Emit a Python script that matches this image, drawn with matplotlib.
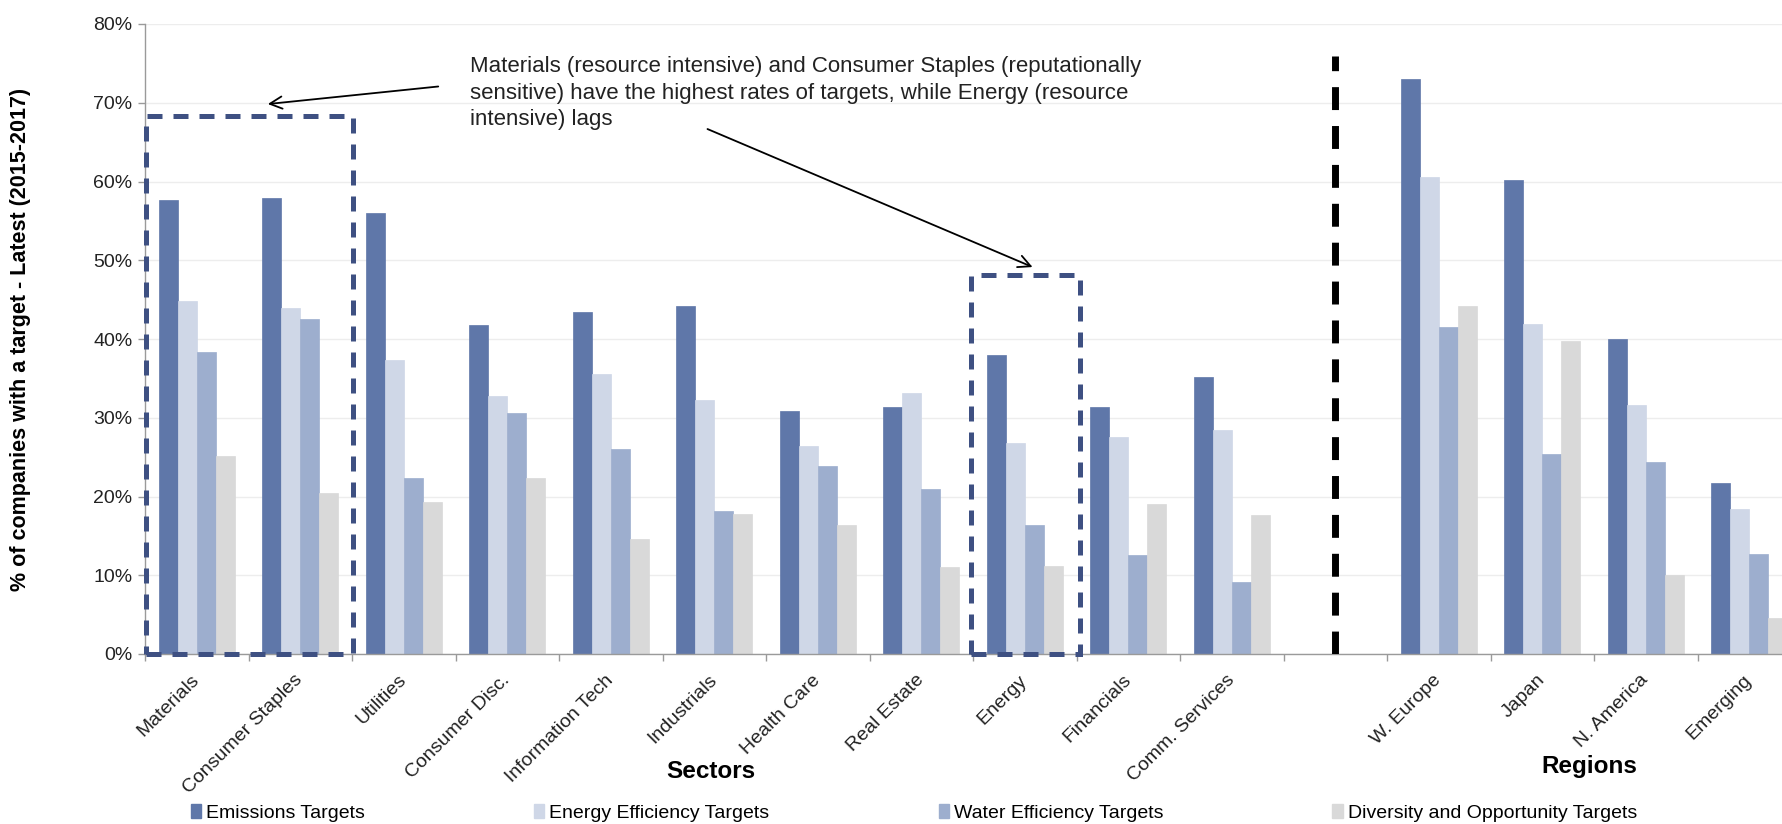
import matplotlib
matplotlib.use("Agg")
import matplotlib.pyplot as plt
from matplotlib.patches import Rectangle, Patch
import numpy as np

plt.rcParams['font.family'] = ['Liberation Sans', 'DejaVu Sans']

categories = ["Materials", "Consumer Staples", "Utilities", "Consumer Disc.", "Information Tech",
              "Industrials", "Health Care", "Real Estate", "Energy", "Financials", "Comm. Services",
              "", "W. Europe", "Japan", "N. America", "Emerging"]
emissions = [57.6, 57.9, 56.0, 41.8, 43.4, 44.2, 30.8, 31.4, 38.0, 31.4, 35.2, np.nan, 73.0, 60.2, 40.0, 21.7]
energy_eff = [44.8, 43.9, 37.3, 32.8, 35.6, 32.3, 26.4, 33.1, 26.8, 27.5, 28.5, np.nan, 60.6, 41.9, 31.6, 18.4]
water_eff = [38.4, 42.5, 22.3, 30.6, 26.0, 18.1, 23.9, 20.9, 16.4, 12.6, 9.1, np.nan, 41.5, 25.4, 24.4, 12.7]
diversity = [25.2, 20.5, 19.3, 22.3, 14.6, 17.8, 16.4, 11.1, 11.2, 19.1, 17.6, np.nan, 44.2, 39.8, 10.0, 4.6]
series_names = ["Emissions Targets", "Energy Efficiency Targets", "Water Efficiency Targets",
                "Diversity and Opportunity Targets"]
colors = ["#5F77A9", "#CFD7E7", "#9DAECE", "#D9D9D9"]

W, H = 1782, 824
fig = plt.figure(figsize=(W / 100, H / 100), dpi=100)
ax = fig.add_axes([145 / W, 1 - 654 / H, (1801 - 145) / W, (654 - 24) / H])

x = np.arange(len(categories))
bw = 0.1825
for i, (vals, c, name) in enumerate(zip([emissions, energy_eff, water_eff, diversity], colors, series_names)):
    ax.bar(x + (i - 1.5) * bw, vals, width=bw, color=c, edgecolor=c, linewidth=0.5, label=name, zorder=2)

ax.set_xlim(-0.5, len(categories) - 0.5)
ax.set_ylim(0, 80)
ax.set_yticks(np.arange(0, 81, 10))
ax.set_yticklabels([f"{v}%" for v in range(0, 81, 10)], fontsize=14, color="#222222")
ax.yaxis.grid(True, color="#EDEDED", linewidth=1, zorder=0)
ax.set_axisbelow(True)

ax.set_xticks(np.arange(-0.5, len(categories) + 0.5, 1.0))
ax.set_xticklabels([])
ax.set_xticks(x, minor=True)
ax.set_xticklabels(categories, minor=True, fontsize=14, rotation=45, ha="right",
                   rotation_mode="anchor", color="#222222")
for lbl in ax.get_xticklabels(minor=True):
    lbl.set_va("center")
ax.tick_params(axis="x", which="minor", length=0, pad=17)
ax.tick_params(axis="x", which="major", length=5, color="#9A9A9A", width=1)
ax.tick_params(axis="y", length=5, color="#9A9A9A", width=1, pad=4)

for s in ["top", "right"]:
    ax.spines[s].set_visible(False)
for s in ["left", "bottom"]:
    ax.spines[s].set_color("#9A9A9A")
    ax.spines[s].set_linewidth(1)

# dashed highlight boxes
box_col = "#3E5082"
for (x0, x1, ytop) in [(-0.49, 1.505, 68.3), (7.476, 8.53, 48.1)]:
    r = Rectangle((x0, 0), x1 - x0, ytop, fill=False, edgecolor=box_col, linewidth=3.6,
                  linestyle=(0, (3.0, 2.2)), clip_on=False, zorder=5)
    ax.add_patch(r)

# separator line
ax.plot([11, 11], [0, 76], color="black", linewidth=5, linestyle=(0, (3.3, 2.3)), zorder=5,
        solid_capstyle="butt")

# annotation
ax.text(2.64, 71.2, "Materials (resource intensive) and Consumer Staples (reputationally\n"
        "sensitive) have the highest rates of targets, while Energy (resource\nintensive) lags",
        fontsize=16, va="center", ha="left", color="#222222", linespacing=1.35)
ax.annotate("", xy=(0.66, 69.8), xytext=(2.36, 72.1),
            arrowprops=dict(arrowstyle="->", color="black", lw=1.3, mutation_scale=22))
ax.annotate("", xy=(8.10, 49.0), xytext=(4.91, 66.8),
            arrowprops=dict(arrowstyle="->", color="black", lw=1.3, mutation_scale=22))

fig.text(21 / W, 1 - 339 / H, "% of companies with a target - Latest (2015-2017)", rotation=90,
         fontsize=15.5, fontweight="bold", ha="center", va="center")
fig.text(711 / W, 1 - 772 / H, "Sectors", fontsize=17.5, fontweight="bold", ha="center", va="center")
fig.text(1589 / W, 1 - 766 / H, "Regions", fontsize=17.5, fontweight="bold", ha="center", va="center")

handles = [Patch(facecolor=c, edgecolor=c) for c in colors]
fig.legend(handles, series_names, loc="center left", bbox_to_anchor=(191 / W, 1 - 813 / H),
           ncol=4, frameon=False, fontsize=14, handlelength=0.52, handleheight=0.72,
           handletextpad=0.26, columnspacing=8.7, borderpad=0, borderaxespad=0)

fig.savefig("out.png", dpi=100)
